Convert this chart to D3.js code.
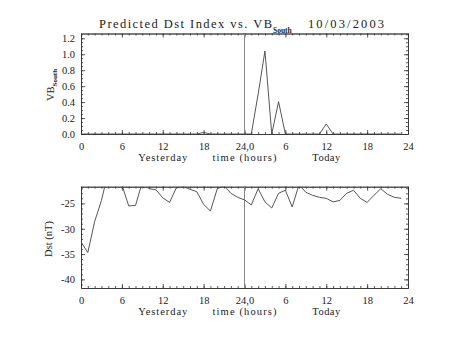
<!DOCTYPE html>
<html>
<head>
<meta charset="utf-8">
<script src="https://cdn.jsdelivr.net/npm/d3@7"></script>
<style>
  html, body { margin: 0; padding: 0; background: #fff; }
  svg { display: block; }
  text { font-family: "Liberation Serif", "Times New Roman", serif; fill: #222; }
</style>
</head>
<body>
<svg id="chart" width="453" height="340"></svg>
<script>
// Hours since the start of yesterday (0..47)
const hours = d3.range(0, 48);

// Southward solar wind VB (mV/m), hourly
const vbSouth = [
  0, 0, 0, 0, 0, 0, 0, 0, 0, 0, 0, 0,
  0, 0, 0, 0, 0, 0, 0.02, 0, 0, 0, 0, 0,
  0, 0, 0.5, 1.04, 0, 0.405, 0, 0, 0, 0, 0, 0,
  0.125, 0, 0, 0, 0, 0, 0, 0, 0, 0, 0, 0
];

// Predicted Dst (nT), hourly
const dst = [
  -32.6, -34.7, -28.6, -24.4, -18.8, -19.5, -21.3, -25.5, -25.4, -20.8, -22.1, -22.3,
  -23.9, -24.8, -21.9, -21.7, -22.2, -22.7, -25.2, -26.5, -22.1, -21.5, -23.0, -23.8,
  -24.3, -25.3, -22.1, -24.7, -25.9, -23.0, -22.4, -25.7, -21.3, -22.8, -23.4, -23.8,
  -24.0, -24.7, -24.4, -23.0, -22.4, -24.0, -24.8, -23.4, -22.1, -23.2, -23.8, -24.0
];

// Time axis tick values and their labels
const xTickValues = [0, 6, 12, 18, 24, 30, 36, 42, 48];
const xTickLabels = ["0", "6", "12", "18", "24,0", "6", "12", "18", "24"];

// Day captions under the time axis: text, centre hour, drawn width
const dayCaptions = [["Yesterday", 12, 49], ["time (hours)", 24, 64], ["Today", 36, 28]];

const vbTicks = [0, 0.2, 0.4, 0.6, 0.8, 1.0, 1.2];
const dstTicks = [-40, -35, -30, -25];

const svg = d3.select("#chart");
const axisColor = "#333";
const lineColor = "#444";

const left = 81, right = 408;
const x = d3.scaleLinear().domain([0, 48]).range([left, right]);

function drawPanel(cfg) {
  const g = svg.append("g");
  const y = d3.scaleLinear().domain(cfg.yDomain).range([cfg.bottom, cfg.top]);

  // clip region for the data line
  const clipId = "clip-" + cfg.name;
  svg.append("clipPath").attr("id", clipId)
    .append("rect").attr("x", left).attr("y", cfg.top)
    .attr("width", right - left).attr("height", cfg.bottom - cfg.top);

  // minor ticks on all four sides
  const minorX = d3.range(0, 49);
  g.append("g").attr("transform", `translate(0,${cfg.bottom})`)
    .call(d3.axisBottom(x).tickValues(minorX).tickSize(-2).tickSizeOuter(0).tickFormat(""));
  g.append("g").attr("transform", `translate(0,${cfg.top})`)
    .call(d3.axisTop(x).tickValues(minorX).tickSize(-2).tickSizeOuter(0).tickFormat(""));
  g.append("g").attr("transform", `translate(${left},0)`)
    .call(d3.axisLeft(y).tickValues(cfg.yMinor).tickSize(-2).tickSizeOuter(0).tickFormat(""));
  g.append("g").attr("transform", `translate(${right},0)`)
    .call(d3.axisRight(y).tickValues(cfg.yMinor).tickSize(-2).tickSizeOuter(0).tickFormat(""));

  // major ticks with labels
  g.append("g").attr("transform", `translate(0,${cfg.bottom})`)
    .call(d3.axisBottom(x).tickValues(xTickValues).tickSize(-4).tickSizeOuter(0)
      .tickPadding(cfg.xPad).tickFormat((d, i) => xTickLabels[i]));
  g.append("g").attr("transform", `translate(0,${cfg.top})`)
    .call(d3.axisTop(x).tickValues(xTickValues).tickSize(-4).tickSizeOuter(0).tickFormat(""));
  g.append("g").attr("transform", `translate(${left},0)`)
    .call(d3.axisLeft(y).tickValues(cfg.yTicks).tickSize(-4).tickSizeOuter(0)
      .tickPadding(6).tickFormat(cfg.yFormat));
  g.append("g").attr("transform", `translate(${right},0)`)
    .call(d3.axisRight(y).tickValues(cfg.yTicks).tickSize(-4).tickSizeOuter(0).tickFormat(""));

  g.selectAll(".domain").attr("stroke", axisColor).attr("stroke-width", 0.8);
  g.selectAll(".tick line").attr("stroke", axisColor).attr("stroke-width", 0.8);
  g.selectAll(".tick text").attr("font-size", 10.5).attr("fill", "#222")
    .attr("font-family", "Liberation Serif, serif");

  // divider between yesterday and today
  g.append("line")
    .attr("x1", x(24)).attr("x2", x(24))
    .attr("y1", cfg.top).attr("y2", cfg.bottom)
    .attr("stroke", "#888").attr("stroke-width", 1);

  // data line
  const line = d3.line().x((d, i) => x(hours[i])).y(d => y(d));
  g.append("path").datum(cfg.values)
    .attr("clip-path", `url(#${clipId})`)
    .attr("fill", "none").attr("stroke", lineColor).attr("stroke-width", 0.9)
    .attr("d", line);

  // x axis captions
  const ty = cfg.bottom + cfg.titleOffset;
  dayCaptions.forEach(([t, h, w]) => {
    g.append("text").attr("x", x(h) - w / 2).attr("y", ty)
      .attr("font-size", 10.5)
      .attr("textLength", w).attr("lengthAdjust", "spacing").text(t);
  });
  return y;
}

drawPanel({
  name: "vb", top: 33.5, bottom: 134, yDomain: [0, 1.26],
  yTicks: vbTicks, yMinor: d3.range(0, 1.26, 0.05),
  yFormat: d3.format(".1f"), values: vbSouth, xPad: 9, titleOffset: 27
});

drawPanel({
  name: "dst", top: 186.7, bottom: 288, yDomain: [-41.7, -21.7],
  yTicks: dstTicks, yMinor: d3.range(-41, -21, 1),
  yFormat: d => "-" + Math.abs(d), values: dst, xPad: 9, titleOffset: 27
});

// Title
svg.append("text").attr("x", 99).attr("y", 27.5).attr("font-size", 12.5)
  .attr("textLength", 173).attr("lengthAdjust", "spacing")
  .text("Predicted Dst Index vs. VB");
svg.append("text").attr("x", 273).attr("y", 33).attr("font-size", 7.5)
  .attr("font-weight", "bold").text("South");
svg.append("text").attr("x", 308).attr("y", 27.5).attr("font-size", 12.5)
  .attr("textLength", 76).attr("lengthAdjust", "spacing")
  .text("10/03/2003");

// Y axis titles
const vbLabel = svg.append("text")
  .attr("transform", "translate(54,85) rotate(-90)")
  .attr("text-anchor", "middle").attr("font-size", 10.5);
vbLabel.append("tspan").text("VB");
vbLabel.append("tspan").attr("font-size", 7).attr("font-weight", "bold")
  .attr("dy", 3).text("South");

svg.append("text")
  .attr("transform", "translate(52,239) rotate(-90)")
  .attr("text-anchor", "middle").attr("font-size", 10.5)
  .text("Dst (nT)");
</script>
</body>
</html>
